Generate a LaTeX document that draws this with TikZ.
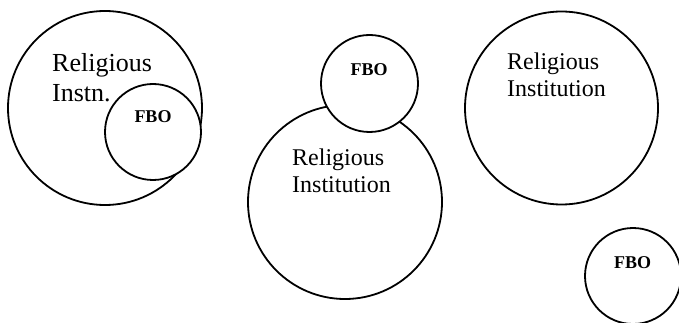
\documentclass[tikz,border=0pt]{standalone}
\usepackage{fontspec}
\setmainfont{Liberation Serif}
\begin{document}
\begin{tikzpicture}[x=1pt,y=-1pt,
  ring/.style={draw,circle,line width=1.8pt,fill=white,inner sep=0pt,minimum size=#1},
  bigtxt/.style={anchor=base west,inner sep=0pt,font=\fontsize{24}{28}\selectfont},
  lefttxt/.style={anchor=base west,inner sep=0pt,font=\fontsize{26}{30}\selectfont},
  fbotxt/.style={anchor=base,inner sep=0pt,font=\fontsize{18}{20}\selectfont\bfseries}]
\useasboundingbox (0,0) rectangle (679,323);
\clip (0,0) rectangle (679,323);
% left group
\node[ring=194pt] (c1) at (105,108) {};
\node[ring=96pt] (f1) at (153,132) {};
\node[lefttxt] (t1a) at (52,72) {Religious};
\node[lefttxt] (t1b) at (52,102) {Instn.};
\node[fbotxt] (l1) at (153,122.5) {FBO};
% middle group
\node[ring=194pt] (c2) at (345,202) {};
\node[ring=97pt] (f2) at (369.5,83.5) {};
\node[bigtxt] (t2a) at (292,165) {Religious};
\node[bigtxt] (t2b) at (292,193) {Institution};
\node[fbotxt] (l2) at (369,75.5) {FBO};
% right group
\node[ring=193pt] (c3) at (561.5,108) {};
\node[bigtxt] (t3a) at (507,70) {Religious};
\node[bigtxt] (t3b) at (507,97) {Institution};
\node[ring=96pt] (f3) at (633,276) {};
\node[fbotxt] (l3) at (632.5,268) {FBO};
\end{tikzpicture}
\end{document}
